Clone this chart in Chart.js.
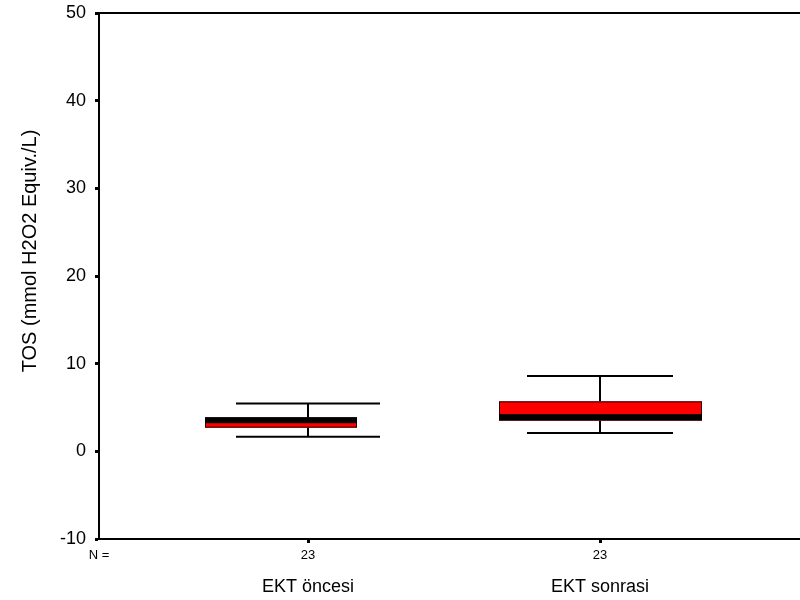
<!DOCTYPE html>
<html><head><meta charset="utf-8">
<script src="https://cdn.jsdelivr.net/npm/chart.js@4"></script>
<style>html,body{margin:0;padding:0;background:#fff}</style>
</head><body>
<canvas id="c" width="800" height="600"></canvas>
<script>
// ---- data ----
const categories = ['EKT öncesi', 'EKT sonrasi'];
const nLabels = ['23', '23'];
const whiskerLow = [1.65, 2.1];
const q1Values = [2.7, 3.5];
const medianValues = [3.55, 3.9];
const q3Values = [3.85, 5.7];
const whiskerHigh = [5.45, 8.6];
const yTicks = [-10, 0, 10, 20, 30, 40, 50];
const yTitle = 'TOS (mmol H2O2 Equiv./L)';

// ---- style ----
const FONT = '"Liberation Sans", Arial, sans-serif';
const boxLeft = [103, 101];   // px from centre
const boxRight = [49, 102];
const capHalf = [72, 73];
const xPos = [1, 2];

const boxPlugin = {
  id: 'boxes',
  afterDatasetsDraw(chart) {
    const ctx = chart.ctx, xs = chart.scales.x, ys = chart.scales.y, ca = chart.chartArea;
    ctx.save();
    for (let i = 0; i < categories.length; i++) {
      const cx = Math.round(xs.getPixelForValue(xPos[i]));
      const yLo = ys.getPixelForValue(whiskerLow[i]);
      const yHi = ys.getPixelForValue(whiskerHigh[i]);
      const yQ1 = ys.getPixelForValue(q1Values[i]);
      const yQ3 = ys.getPixelForValue(q3Values[i]);
      const yMed = ys.getPixelForValue(medianValues[i]);
      ctx.strokeStyle = '#000';
      ctx.lineWidth = 2;
      ctx.beginPath();
      ctx.moveTo(cx, yHi); ctx.lineTo(cx, yQ3);
      ctx.moveTo(cx, yQ1); ctx.lineTo(cx, yLo);
      ctx.moveTo(cx - capHalf[i], yHi); ctx.lineTo(cx + capHalf[i], yHi);
      ctx.moveTo(cx - capHalf[i], yLo); ctx.lineTo(cx + capHalf[i], yLo);
      ctx.stroke();
      // box
      const l = cx - boxLeft[i], r = cx + boxRight[i];
      ctx.fillStyle = '#ff0000';
      ctx.fillRect(l, yQ3, r - l, yQ1 - yQ3);
      ctx.lineWidth = 1;
      ctx.strokeStyle = '#200000';
      ctx.strokeRect(l + 0.5, yQ3 + 0.5, r - l - 1, yQ1 - yQ3 - 1);
      // median
      ctx.fillStyle = '#000';
      ctx.fillRect(l, yMed - 3, r - l, 6);
    }
    // top frame line
    ctx.strokeStyle = '#000';
    ctx.lineWidth = 2;
    ctx.beginPath();
    ctx.moveTo(ca.left, ca.top); ctx.lineTo(ca.right, ca.top);
    ctx.stroke();
    ctx.restore();
  }
};

new Chart(document.getElementById('c'), {
  type: 'scatter',
  data: { datasets: [] },
  options: {
    responsive: false,
    animation: false,
    devicePixelRatio: 1,
    layout: { padding: 0 },
    plugins: { legend: { display: false }, tooltip: { enabled: false } },
    scales: {
      y: {
        type: 'linear', min: -10, max: 50,
        afterBuildTicks: s => { s.ticks = yTicks.map(v => ({ value: v })); },
        afterFit: s => { s.width = 99; s.paddingTop = 13; s.paddingBottom = 0; },
        ticks: { color: '#000', font: { family: FONT, size: 18 }, padding: 9 },
        grid: { drawOnChartArea: false, tickLength: 4, tickWidth: 3, color: '#000' },
        border: { color: '#000', width: 2 },
        title: { display: true, text: '         ' + yTitle, color: '#000',
                 font: { family: FONT, size: 20 }, padding: { top: 18, bottom: 0 } }
      },
      x: {
        type: 'linear', position: 'bottom', min: 0.284, max: 2.685,
        afterBuildTicks: s => { s.ticks = [{ value: 0.284 }].concat(xPos.map(v => ({ value: v }))); },
        afterFit: s => { s.height = 28; },
        ticks: { color: '#000', font: { family: FONT, size: 13 }, padding: 5, autoSkip: false, maxRotation: 0,
                 callback: (v, i) => i === 0 ? 'N =' : nLabels[i - 1] },
        grid: { drawOnChartArea: false, tickLength: 4, tickWidth: 3,
                tickColor: c => c.index === 0 ? 'rgba(0,0,0,0)' : '#000' },
        border: { color: '#000', width: 2 }
      },
      x2: {
        type: 'linear', position: 'bottom', min: 0.284, max: 2.685,
        afterBuildTicks: s => { s.ticks = xPos.map(v => ({ value: v })); },
        afterFit: s => { s.height = 33; },
        ticks: { color: '#000', font: { family: FONT, size: 18 }, padding: 9, autoSkip: false, maxRotation: 0,
                 callback: (v, i) => categories[i] },
        grid: { display: false, drawTicks: false },
        border: { display: false }
      }
    }
  },
  plugins: [boxPlugin]
});
</script>
</body></html>
